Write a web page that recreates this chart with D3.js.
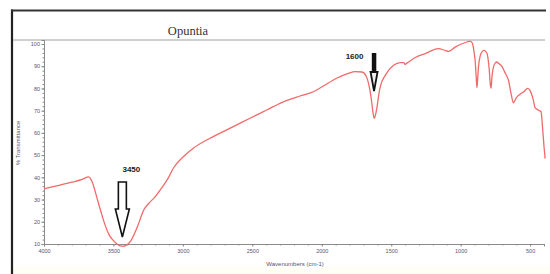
<!DOCTYPE html>
<html>
<head>
<meta charset="utf-8">
<script src="https://cdn.jsdelivr.net/npm/d3@7"></script>
<style>
  body { margin: 0; background: #fff; }
  .axis text { font-family: "Liberation Sans", Arial, sans-serif; font-size: 5.5px; fill: #5a5270; }
  .axis path, .axis line { stroke: #8a8a8a; }
</style>
</head>
<body>
<div id="chart"></div>
<script>
// Spectrum data
const wavenumbers = [
  4000, 3900, 3800, 3720, 3680, 3650, 3620, 3590, 3560, 3530, 3500, 3470, 3440, 3420, 3400,
  3376, 3350, 3326, 3300, 3280, 3250, 3200, 3150, 3107, 3069, 2997, 2925, 2805, 2637, 2517,
  2397, 2277, 2157, 2061, 1989, 1893, 1809, 1760, 1710, 1680, 1663, 1645, 1632, 1622, 1610,
  1600, 1590, 1579, 1543, 1483, 1435, 1410, 1399, 1385, 1375, 1327, 1255, 1160, 1111, 1088,
  1040, 955, 932, 915, 905, 896, 888, 883, 878, 872, 860, 847, 832, 818, 807,
  795, 785, 781, 775, 764, 748, 740, 725, 704, 680, 656, 635, 620, 600, 575,
  548, 517, 500, 480, 464, 440, 421, 410, 400, 392
];
const transmittance = [
  34.8, 36.3, 37.8, 39.2, 40.2, 37.5, 31, 24.5, 18.5, 14, 11.5, 9.8, 9.0, 9.1, 9.8,
  11.3, 14.5, 18, 22.5, 25.5, 28, 31.2, 35.5, 39.5, 44.1, 49.3, 53.1, 57.6, 62.8, 66.6,
  70.3, 74.0, 76.6, 78.5, 81.1, 84.6, 86.8, 87.6, 87.4, 85.5, 82.2, 76, 69.5, 66.5, 69,
  72.5, 77, 80.7, 85.9, 90.4, 91.6, 91.6, 90.8, 91.5, 91.9, 93.9, 95.7, 97.9, 97.1, 96.7,
  98.6, 100.9, 101.3, 100.3, 97, 92.7, 85, 80.4, 84, 89.6, 94.5, 96.4, 97.1, 96.5, 94.9,
  89, 81, 80, 85, 89.6, 91.7, 91.9, 91.2, 90, 87, 83.7, 77, 73.5, 75.8, 77.3,
  78.4, 80, 79, 75.5, 71.4, 70.2, 69.5, 62, 54, 48.4
];
const xTicks = [4000, 3500, 3000, 2500, 2000, 1500, 1000, 500];
const yTicks = [10, 20, 30, 40, 50, 60, 70, 80, 90, 100];
const peaks = [
  { label: "3450", wn: 3425, style: "hollow" },
  { label: "1600", wn: 1620, style: "solid" }
];

const W = 550, H = 274;
const PLOT = { LEFT: 44, RIGHT: 544, TOP: 40, BOTTOM: 244 };

const svg = d3.select("#chart").append("svg")
  .attr("width", W)
  .attr("height", H);

// faint tint along the bottom
svg.append("rect")
  .attr("x", 13).attr("y", 267).attr("width", W - 13).attr("height", H - 267)
  .attr("fill", "#fefef4");

// Frame
svg.append("line")
  .attr("x1", 12).attr("x2", 12).attr("y1", 9.5).attr("y2", H)
  .attr("stroke", "#222").attr("stroke-width", 2.2);
svg.append("line")
  .attr("x1", 11).attr("x2", 546).attr("y1", 10.5).attr("y2", 10.5)
  .attr("stroke", "#333").attr("stroke-width", 2.2);
svg.append("line")
  .attr("x1", 13).attr("x2", 545).attr("y1", 40).attr("y2", 40)
  .attr("stroke", "#a0a0a0").attr("stroke-width", 1);

svg.append("text")
  .attr("x", 188)
  .attr("y", 35)
  .attr("text-anchor", "middle")
  .style("font-family", "'Liberation Serif', 'Times New Roman', serif")
  .style("font-size", "12.5px")
  .style("fill", "#333")
  .text("Opuntia");

// Scales
const x = d3.scaleLinear()
  .domain([4000, 400])
  .range([PLOT.LEFT, PLOT.RIGHT]);

const y = d3.scaleLinear()
  .domain([10, 101.8])
  .range([PLOT.BOTTOM, PLOT.TOP]);

// Axes
const xMinor = d3.range(4000, 399, -100);
const yMinor = d3.range(10, 101, 2);

svg.append("g")
  .attr("class", "axis")
  .attr("transform", "translate(0," + PLOT.BOTTOM + ")")
  .call(d3.axisBottom(x).tickValues(xMinor).tickSize(1.5).tickFormat(""));

svg.append("g")
  .attr("class", "axis")
  .attr("transform", "translate(0," + PLOT.BOTTOM + ")")
  .call(d3.axisBottom(x).tickValues(xTicks).tickSize(2.5).tickPadding(3).tickFormat(d3.format("d")));

svg.append("g")
  .attr("class", "axis")
  .attr("transform", "translate(" + PLOT.LEFT + ",0)")
  .call(d3.axisLeft(y).tickValues(yMinor).tickSize(1.5).tickFormat(""));

svg.append("g")
  .attr("class", "axis")
  .attr("transform", "translate(" + PLOT.LEFT + ",0)")
  .call(d3.axisLeft(y).tickValues(yTicks).tickSize(2.5).tickPadding(1.5).tickFormat(d3.format("d")));

svg.selectAll(".axis .domain").attr("stroke", "#8a8a8a");

svg.append("text")
  .attr("x", 295)
  .attr("y", 266)
  .attr("text-anchor", "middle")
  .style("font-family", "'Liberation Sans', Arial, sans-serif")
  .style("font-size", "6px")
  .style("fill", "#5a5270")
  .text("Wavenumbers (cm-1)");

svg.append("text")
  .attr("text-anchor", "middle")
  .attr("transform", "translate(20,143)rotate(-90)")
  .style("font-family", "'Liberation Sans', Arial, sans-serif")
  .style("font-size", "6px")
  .style("fill", "#5a5270")
  .text("% Transmittance");

// Spectrum line
const data = wavenumbers.map((w, i) => ({ w: w, t: transmittance[i] }));

const line = d3.line()
  .x((d) => x(d.w))
  .y((d) => y(d.t))
  .curve(d3.curveMonotoneX);

svg.append("path")
  .datum(data)
  .attr("fill", "none")
  .attr("stroke", "#f06a6a")
  .attr("stroke-width", 1.3)
  .attr("d", line);

// Peak arrows
function drawArrow(cx, top, shaftBottom, tip, shaftW, headW, solid) {
  const g = svg.append("g");
  if (solid) {
    g.append("rect")
      .attr("x", cx - shaftW / 2).attr("y", top)
      .attr("width", shaftW).attr("height", shaftBottom - top + 1)
      .attr("fill", "#111");
    g.append("path")
      .attr("d", "M" + (cx - headW / 2) + "," + shaftBottom + "L" + (cx + headW / 2) + "," + shaftBottom + "L" + cx + "," + tip + "Z")
      .attr("fill", "#eee").attr("stroke", "#111").attr("stroke-width", 1.8)
      .attr("stroke-linejoin", "miter");
  } else {
    g.append("path")
      .attr("d",
        "M" + (cx - shaftW / 2) + "," + top +
        "L" + (cx + shaftW / 2) + "," + top +
        "L" + (cx + shaftW / 2) + "," + shaftBottom +
        "L" + (cx + headW / 2) + "," + shaftBottom +
        "L" + cx + "," + tip +
        "L" + (cx - headW / 2) + "," + shaftBottom +
        "L" + (cx - shaftW / 2) + "," + shaftBottom + "Z")
      .attr("fill", "#fff").attr("stroke", "#111").attr("stroke-width", 1.6)
      .attr("stroke-linejoin", "miter");
  }
}

const p0 = x(peaks[0].wn);
drawArrow(p0 - 1.5, 182, 209, 237, 8, 14, false);
svg.append("text")
  .attr("x", p0 + 7.5).attr("y", 172)
  .attr("text-anchor", "middle")
  .style("font-family", "'Liberation Sans', Arial, sans-serif")
  .style("font-weight", "bold")
  .style("font-size", "8px")
  .style("fill", "#222")
  .text(peaks[0].label);

const p1 = x(peaks[1].wn);
drawArrow(p1 - 0.5, 53, 72, 91, 4.5, 7, true);
svg.append("text")
  .attr("x", p1 - 20).attr("y", 59)
  .attr("text-anchor", "middle")
  .style("font-family", "'Liberation Sans', Arial, sans-serif")
  .style("font-weight", "bold")
  .style("font-size", "8px")
  .style("fill", "#222")
  .text(peaks[1].label);
</script>
</body>
</html>
